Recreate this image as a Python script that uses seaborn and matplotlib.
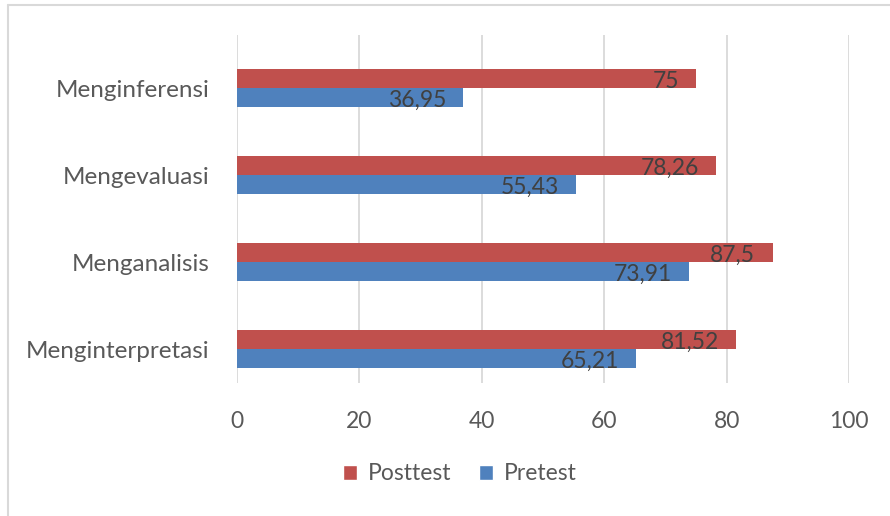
import matplotlib
matplotlib.use("Agg")
import matplotlib.pyplot as plt
import seaborn as sns
import pandas as pd
from matplotlib.lines import Line2D
from matplotlib.patches import Patch

# --- Data ---
categories = ["Menginferensi", "Mengevaluasi", "Menganalisis", "Menginterpretasi"]
posttest = [75, 78.26, 87.5, 81.52]
pretest = [36.95, 55.43, 73.91, 65.21]
posttest_labels = ["75", "78,26", "87,5", "81,52"]
pretest_labels = ["36,95", "55,43", "73,91", "65,21"]
x_ticks = [0, 20, 40, 60, 80, 100]

df = pd.DataFrame({
    "kategori": categories * 2,
    "nilai": posttest + pretest,
    "tes": ["Posttest"] * 4 + ["Pretest"] * 4,
})

red = "#C0504D"
blue = "#4F81BD"
grid_col = "#D9D9D9"
text_col = "#595959"

sns.set_style("white")
plt.rcParams["font.family"] = ["Lato", "DejaVu Sans"]

fig = plt.figure(figsize=(8.9, 5.16), dpi=100)
ax = fig.add_axes([237 / 890, 1 - 383 / 516, 612 / 890, 348 / 516])

sns.barplot(data=df, y="kategori", x="nilai", hue="tes", order=categories,
            hue_order=["Posttest", "Pretest"], palette=[red, blue],
            orient="h", width=0.43, dodge=True, ax=ax, legend=False,
            saturation=1, linewidth=0)

# --- Value labels near bar ends ---
for cont, labels in zip(ax.containers, [posttest_labels, pretest_labels]):
    for bar, lab in zip(cont, labels):
        x_end = bar.get_x() + bar.get_width()
        y_mid = bar.get_y() + bar.get_height() / 2 + 0.03
        ax.text(x_end - 2.8, y_mid, lab, ha="right", va="center",
                fontsize=16.5, color="#404040")

ax.set_xlim(0, 100)
ax.set_ylim(3.39, -0.61)
ax.set_xticks(x_ticks)
ax.set_xticklabels([str(t) for t in x_ticks])
ax.xaxis.grid(True, color=grid_col, linewidth=1.3)
ax.set_axisbelow(True)
for s in ax.spines.values():
    s.set_visible(False)
ax.tick_params(axis="both", length=0, colors=text_col, labelsize=16.5)
ax.tick_params(axis="y", pad=20, labelsize=17.5)
ax.tick_params(axis="x", pad=20)
ax.set_xlabel("")
ax.set_ylabel("")

# --- Legend at bottom ---
handles = [Patch(facecolor=red, label="Posttest"), Patch(facecolor=blue, label="Pretest")]
fig.legend(handles=handles, loc="center", bbox_to_anchor=(460 / 890, 1 - 474 / 516),
           ncol=2, frameon=False, fontsize=16.5, handlelength=0.6, handleheight=0.6,
           handletextpad=0.5, columnspacing=1.2, labelcolor=text_col)

# --- Chart border (left and top) ---
fig.add_artist(Line2D([8 / 890, 8 / 890], [0, 1 - 5 / 516], color=grid_col, linewidth=1.5))
fig.add_artist(Line2D([8 / 890, 1], [1 - 5 / 516, 1 - 5 / 516], color=grid_col, linewidth=1.5))

fig.savefig("out.png", dpi=100)
